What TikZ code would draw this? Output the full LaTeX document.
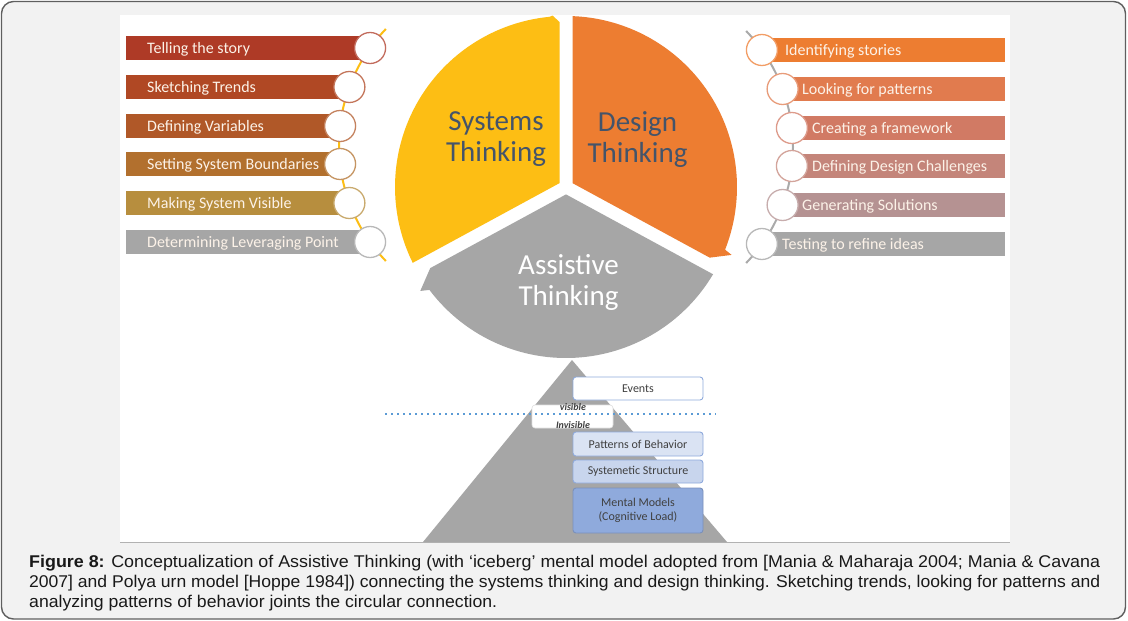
\documentclass[tikz,border=0pt]{standalone}
\usepackage{fontspec}
\setmainfont{Carlito}
\newfontfamily\capfont{Liberation Sans}
\usetikzlibrary{calc}
\definecolor{framebg}{RGB}{242,242,242}
\definecolor{frameline}{RGB}{95,95,95}
\definecolor{sysY}{RGB}{253,190,20}
\definecolor{desO}{RGB}{237,125,49}
\definecolor{assG}{RGB}{166,166,166}
\definecolor{slate}{RGB}{68,84,106}
\definecolor{lA}{RGB}{174,58,38}
\definecolor{lB}{RGB}{176,72,36}
\definecolor{lC}{RGB}{176,88,40}
\definecolor{lD}{RGB}{178,112,46}
\definecolor{lE}{RGB}{183,142,62}
\definecolor{lF}{RGB}{166,166,166}
\definecolor{rA}{RGB}{237,125,49}
\definecolor{rB}{RGB}{225,123,78}
\definecolor{rC}{RGB}{209,122,100}
\definecolor{rD}{RGB}{196,133,122}
\definecolor{rE}{RGB}{181,146,146}
\definecolor{rF}{RGB}{166,166,166}
\definecolor{bartxt}{RGB}{252,242,232}
\definecolor{iceline}{RGB}{143,170,220}
\definecolor{iceA}{RGB}{218,227,243}
\definecolor{iceB}{RGB}{200,213,237}
\definecolor{iceC}{RGB}{143,170,220}
\definecolor{dotblue}{RGB}{91,155,213}
\definecolor{rightline}{RGB}{170,170,170}
\tikzset{
  barbox/.style={rectangle, inner sep=0pt, minimum height=23.5pt, draw=none},
  bartext/.style={inner sep=0pt, anchor=base west, text=bartxt, font=\fontsize{16}{18}\selectfont},
  ring/.style={circle, fill=white, line width=1.3pt, minimum size=31pt, inner sep=0pt},
  bigtext/.style={align=center, inner sep=0pt, font=\fontsize{29}{31}\selectfont},
  icebox/.style={rectangle, rounded corners=3pt, draw=iceline, line width=0.9pt, minimum width=130pt, inner sep=0pt, text=black!75, font=\fontsize{12}{14}\selectfont, align=center},
  vistext/.style={inner sep=0pt, text=black!75, font=\fontsize{10}{11}\selectfont\bfseries\itshape},
  captext/.style={inner sep=0pt, anchor=base west, text=black!90, font=\capfont\fontsize{17}{20}\selectfont},
  listarc/.style={line width=2pt},
}
\begin{document}
\begin{tikzpicture}[x=1pt,y=-1pt]
\useasboundingbox (0,0) rectangle (1128,621);
% frame and image area
\path[fill=framebg, draw=frameline, line width=1.4pt, rounded corners=12pt] (1.5,1.5) rectangle (1125.5,619);
\fill[white] (120,15) rectangle (1010,542);
\draw[black!30, line width=0.8pt] (120,542) -- (1010,542);

% iceberg
\fill[assG] (572,360) -- (727,542) -- (423,542) -- cycle;
\node[icebox, fill=white, minimum height=23pt] (events) at (638,388.5) {Events};
\node[rectangle, rounded corners=3pt, fill=white, draw=black!12, line width=0.6pt, minimum width=81pt, minimum height=23pt, inner sep=0pt] (visbox) at (572.5,416.5) {};
\node[vistext] (vis) at (573,407.5) {visible};
\node[vistext] (invis) at (573,425) {Invisible};
\draw[dotblue, line width=2.4pt, dash pattern=on 2.4pt off 3.6pt] (385,414) coordinate (dotL) -- (716,414) coordinate (dotR);
\node[icebox, fill=iceA, minimum height=24pt] (patterns) at (638,444) {Patterns of Behavior};
\node[icebox, fill=iceB, minimum height=23pt] (structure) at (638,471.5) {Systemetic Structure};
\node[icebox, fill=iceC, draw=iceline!85!black, minimum height=45pt] (mental) at (638,510.5) {Mental Models\\(Cognitive Load)};

% pie of three curved arrows
\begin{scope}[shift={(566,187)}, yscale=-1]
\fill[sysY] (149.25:7.56) -- ($(90:165)+(180:6.5)$) -- (94.5:172) -- (95.5:171)
  arc[start angle=95.5, end angle=206.32, radius=171] -- cycle;
\fill[desO] (30.75:7.56) -- ($(-28.5:160)+(61.5:6.5)$) -- (-22.3:179) -- (-21.5:171)
  arc[start angle=-21.5, end angle=87.82, radius=171] -- cycle;
\fill[assG] (270:7.4) -- ($(208.5:158)+(298.5:6.5)$) -- (215.5:179) -- (217:171)
  arc[start angle=217, end angle=329.32, radius=171] -- cycle;
\end{scope}
\node[bigtext, text=slate] (systext) at (496,139.5) {Systems\\Thinking};
\node[bigtext, text=slate] (destext) at (637.5,139.5) {Design\\Thinking};
\node[bigtext, text=white] (asstext) at (568.5,282.5) {Assistive\\Thinking};

% left list bars
\node[barbox, fill=lA, anchor=west, minimum width=244.1pt] (lb1) at (126,48) {};
\node[barbox, fill=lB, anchor=west, minimum width=223.4pt] (lb2) at (126,87) {};
\node[barbox, fill=lC, anchor=west, minimum width=214.1pt] (lb3) at (126,126) {};
\node[barbox, fill=lD, anchor=west, minimum width=214.1pt] (lb4) at (126,164) {};
\node[barbox, fill=lE, anchor=west, minimum width=223.4pt] (lb5) at (126,203) {};
\node[barbox, fill=lF, anchor=west, minimum width=244.1pt] (lb6) at (126,242) {};
\node[bartext] (lt1) at (147,53.5) {Telling the story};
\node[bartext] (lt2) at (147,92.5) {Sketching Trends};
\node[bartext] (lt3) at (147,131.5) {Defining Variables};
\node[bartext] (lt4) at (147,169.5) {Setting System Boundaries};
\node[bartext] (lt5) at (147,208.5) {Making System Visible};
\node[bartext] (lt6) at (147,247.5) {Determining Leveraging Point};

% right list bars
\node[barbox, fill=rA, anchor=east, minimum width=243.1pt] (rb1) at (1005,50) {};
\node[barbox, fill=rB, anchor=east, minimum width=222.4pt] (rb2) at (1005,89) {};
\node[barbox, fill=rC, anchor=east, minimum width=213.1pt] (rb3) at (1005,128) {};
\node[barbox, fill=rD, anchor=east, minimum width=213.1pt] (rb4) at (1005,166) {};
\node[barbox, fill=rE, anchor=east, minimum width=222.4pt] (rb5) at (1005,205) {};
\node[barbox, fill=rF, anchor=east, minimum width=243.1pt] (rb6) at (1005,244) {};
\node[bartext] (rt1) at (785,55.5) {Identifying stories};
\node[bartext] (rt2) at (802,94.5) {Looking for patterns};
\node[bartext] (rt3) at (812,133.5) {Creating a framework};
\node[bartext] (rt4) at (812,171.5) {Defining Design Challenges};
\node[bartext] (rt5) at (802,210.5) {Generating Solutions};
\node[bartext] (rt6) at (782,249.5) {Testing to refine ideas};

% connecting arcs
\begin{scope}[shift={(506,145)}, yscale=-1]
\draw[listarc, sysY] (136:167) coordinate (la) arc[start angle=136, end angle=224, radius=167] coordinate (lz);
\end{scope}
\begin{scope}[shift={(626,147)}, yscale=-1]
\draw[listarc, rightline] (44:167) coordinate (ra) arc[start angle=44, end angle=-44, radius=167] coordinate (rz);
\end{scope}

% rings
\node[ring, draw=lA!75!white] (lc1) at (370.1,48) {};
\node[ring, draw=lB!75!white] (lc2) at (349.4,87) {};
\node[ring, draw=lC!75!white] (lc3) at (340.1,126) {};
\node[ring, draw=lD!75!white] (lc4) at (340.1,164) {};
\node[ring, draw=lE!75!white] (lc5) at (349.4,203) {};
\node[ring, draw=lF!80!white] (lc6) at (370.1,242) {};
\node[ring, draw=rA!75!white] (rc1) at (761.9,50) {};
\node[ring, draw=rB!75!white] (rc2) at (782.6,89) {};
\node[ring, draw=rC!75!white] (rc3) at (791.9,128) {};
\node[ring, draw=rD!75!white] (rc4) at (791.9,166) {};
\node[ring, draw=rE!75!white] (rc5) at (782.6,205) {};
\node[ring, draw=rF!80!white] (rc6) at (761.9,244) {};

% caption
\node[captext] (cap1) at (29,567) {\resizebox{1071pt}{\height}{\textbf{Figure 8:} Conceptualization of Assistive Thinking (with ‘iceberg’ mental model adopted from [Mania \& Maharaja 2004; Mania \& Cavana}};
\node[captext] (cap2) at (29,587) {\resizebox{1071pt}{\height}{2007] and Polya urn model [Hoppe 1984]) connecting the systems thinking and design thinking. Sketching trends, looking for patterns and}};
\node[captext] (cap3) at (29,607) {\resizebox{468pt}{\height}{analyzing patterns of behavior joints the circular connection.}};
\end{tikzpicture}
\end{document}
